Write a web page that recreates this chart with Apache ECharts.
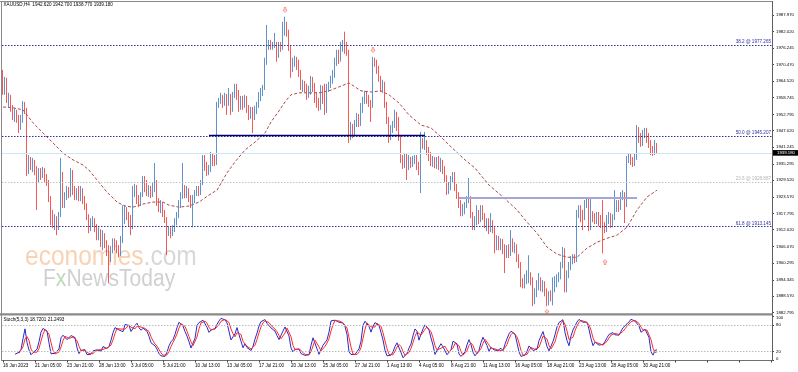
<!DOCTYPE html>
<html><head><meta charset="utf-8">
<script src="https://cdn.jsdelivr.net/npm/echarts@6/dist/echarts.min.js"></script>
<style>html,body{margin:0;padding:0;background:#fff}#c{width:798px;height:372px}</style>
</head><body><div id="c"></div>
<script>
// ---------- data ----------
const timeLabels = ["16 Jun 2023","21 Jun 05:00","23 Jun 21:00","28 Jun 13:00","3 Jul 05:00","5 Jul 21:00","10 Jul 13:00","13 Jul 05:00","17 Jul 21:00","20 Jul 13:00","25 Jul 05:00","27 Jul 21:00","1 Aug 13:00","4 Aug 05:00","8 Aug 21:00","11 Aug 13:00","16 Aug 05:00","18 Aug 21:00","23 Aug 13:00","28 Aug 05:00","30 Aug 21:00"];
const priceTicks = [1882.795,1888.570,1894.345,1900.295,1906.070,1912.020,1917.795,1923.570,1929.520,1935.295,1941.245,1947.020,1952.795,1958.745,1964.520,1970.470,1976.245,1982.020,1987.970];
const stochTicks = [0,20,80,100];
const stochLevels = [20,80];
const fibRatios = ["38.2","50.0","23.6","61.8"];
const fibLevels = [1977.265,1945.207,1928.887,1913.145];
const lastPrice = 1939.18;
const supportLine = {level:1945.28, from:103, to:211};
const rangeLine = {level:1923.34, from:228, to:317};
const upperFractals = [[141,1989.7],[185,1975.5]];
const lowerFractals = [[272,1882.95],[301,1900.6]];

// candles: [open, close, low, high]
const ohlcJune = [
[1966.7,1961.4,1959.7,1968.5],[1961.4,1965.0,1959.7,1966.0],[1965.0,1957.9,1956.8,1965.7],[1957.9,1959.0,1955.1,1960.4],
[1959.0,1955.1,1953.7,1959.7],[1955.1,1952.2,1950.8,1956.1],[1952.2,1953.7,1950.1,1955.1],[1953.7,1951.5,1949.8,1954.4],
[1951.5,1948.3,1946.2,1952.6],[1948.3,1950.8,1947.3,1952.6],[1950.8,1956.5,1949.8,1957.5],[1956.5,1954.4,1952.9,1957.2],
[1954.4,1932.4,1931.0,1955.1],[1932.4,1936.7,1931.7,1938.4],[1936.7,1934.2,1933.1,1937.7],[1934.2,1936.0,1932.4,1937.4],
[1936.0,1933.1,1931.3,1936.7],[1933.1,1929.6,1919.0,1934.5],[1929.6,1932.4,1928.5,1933.8],[1932.4,1931.0,1929.6,1933.8],
[1931.0,1933.1,1930.3,1934.2],[1933.1,1930.3,1928.9,1933.8],[1930.3,1928.5,1927.5,1931.7],[1928.5,1923.2,1921.8,1929.6],
[1923.2,1917.2,1913.6,1923.9],[1917.2,1914.7,1912.6,1919.0],[1914.7,1916.1,1911.9,1917.5],[1916.1,1912.6,1910.1,1916.8],
[1912.6,1917.2,1911.9,1918.3],[1917.2,1931.3,1916.5,1937.4],[1931.3,1920.7,1919.7,1932.4],[1920.7,1923.6,1919.7,1925.3],
[1923.6,1925.3,1922.5,1927.5],[1925.3,1924.3,1923.2,1927.1],[1924.3,1932.4,1923.6,1933.8],[1932.4,1926.0,1924.3,1933.1],
[1926.0,1923.9,1922.5,1927.5],[1923.9,1925.3,1922.5,1926.7],[1925.3,1923.2,1922.1,1927.5],[1923.2,1926.0,1922.1,1927.5],
[1926.0,1922.5,1921.1,1926.7],[1922.5,1920.0,1919.0,1923.9],[1920.0,1916.5,1915.4,1921.4],[1916.5,1912.2,1910.8,1917.5],
[1912.2,1914.7,1911.5,1916.1],[1914.7,1915.4,1913.3,1916.8],[1915.4,1912.6,1911.2,1916.1],[1912.6,1909.8,1908.3,1914.0],
[1909.8,1911.2,1908.3,1912.9],[1911.2,1907.6,1905.9,1912.2],[1907.6,1909.8,1904.8,1911.9],[1909.8,1906.6,1905.5,1910.8],
[1906.6,1904.1,1902.7,1908.3],[1904.1,1902.0,1893.1,1906.6],[1902.0,1904.8,1900.6,1906.2],[1904.8,1907.3,1903.7,1909.0],
[1907.3,1905.9,1904.8,1909.0],[1905.9,1904.8,1903.7,1908.3],[1904.8,1903.7,1902.3,1906.6],[1903.7,1908.3,1902.7,1909.8],
[1908.3,1915.4,1907.3,1920.7],[1915.4,1919.0,1914.0,1920.7],[1919.0,1916.8,1915.4,1920.0]
];
const ohlcJuly = [
[1916.8,1914.7,1913.3,1918.3],[1914.7,1913.3,1910.1,1917.2],[1913.3,1926.0,1912.2,1927.5],[1926.0,1926.7,1923.6,1928.2],
[1926.7,1922.5,1921.1,1927.8],[1922.5,1921.1,1920.0,1924.3],[1921.1,1924.3,1920.4,1925.3],[1924.3,1929.6,1923.6,1931.0],
[1929.6,1927.1,1925.3,1931.0],[1927.1,1925.0,1923.9,1929.6],[1925.0,1926.0,1923.6,1927.8],[1926.0,1924.3,1923.2,1927.5],
[1924.3,1926.7,1923.6,1928.5],[1926.7,1927.8,1925.3,1935.6],[1927.8,1921.4,1920.4,1929.6],[1921.4,1919.7,1918.3,1923.2],
[1919.7,1920.7,1917.9,1922.5],[1920.7,1917.5,1916.5,1921.8],[1917.5,1915.4,1914.4,1919.0],[1915.4,1911.2,1903.0,1916.5],
[1911.2,1911.9,1909.8,1913.3],[1911.9,1910.5,1909.0,1912.9],[1910.5,1912.2,1909.8,1913.6],[1912.2,1914.7,1911.2,1916.1],
[1914.7,1916.8,1913.6,1918.3],[1916.8,1920.7,1916.1,1922.5],[1920.7,1923.9,1919.7,1925.3],[1923.9,1926.7,1922.9,1935.6],
[1926.7,1924.3,1923.2,1927.8],[1924.3,1926.0,1923.2,1927.5],[1926.0,1923.2,1921.8,1926.7],[1923.2,1920.7,1919.7,1924.3],
[1920.7,1922.5,1912.9,1924.3],[1922.5,1925.0,1921.4,1926.0],[1925.0,1926.0,1923.9,1927.5],[1926.0,1925.0,1923.9,1927.5],
[1925.0,1928.5,1924.3,1929.6],[1928.5,1937.4,1927.8,1938.4],[1937.4,1933.8,1932.8,1938.4],[1933.8,1932.4,1931.0,1936.0],
[1932.4,1933.1,1931.3,1934.9],[1933.1,1938.1,1932.4,1939.5],[1938.1,1936.7,1934.5,1939.1],[1936.7,1935.6,1934.5,1938.4],
[1935.6,1955.8,1934.9,1957.2],[1955.8,1957.2,1955.1,1958.6],[1957.2,1959.0,1956.5,1960.4],[1959.0,1956.5,1955.1,1959.7],
[1956.5,1959.0,1955.8,1960.4],[1959.0,1956.5,1952.6,1960.0],[1956.5,1959.3,1955.8,1962.1],[1959.3,1954.4,1952.6,1960.0],
[1954.4,1959.3,1953.7,1960.7],[1959.3,1962.1,1958.6,1963.6],[1962.1,1959.7,1957.9,1963.6],[1959.7,1955.1,1953.7,1961.4],
[1955.1,1957.9,1954.4,1959.3],[1957.9,1955.8,1954.4,1959.3],[1955.8,1958.6,1955.1,1959.7],[1958.6,1954.4,1953.3,1959.3],
[1954.4,1951.9,1950.8,1956.1],[1951.9,1954.4,1951.2,1955.4],[1954.4,1951.5,1946.2,1955.4],[1951.5,1954.4,1950.8,1955.8],
[1954.4,1955.8,1952.9,1957.2],[1955.8,1958.3,1955.1,1960.7],[1958.3,1960.7,1957.5,1962.1],[1960.7,1962.1,1959.3,1963.2],
[1962.1,1971.4,1961.4,1972.8],[1971.4,1976.7,1970.3,1984.4],[1976.7,1978.4,1975.6,1979.1],[1978.4,1976.3,1975.6,1979.1],
[1976.3,1977.7,1975.6,1978.4],[1977.7,1978.1,1976.3,1981.6],[1978.1,1973.8,1971.4,1978.4],[1973.8,1977.4,1972.8,1978.4],
[1977.4,1976.3,1974.9,1978.4],[1976.3,1983.4,1975.6,1985.5],[1983.4,1984.8,1980.6,1987.3],[1984.8,1981.6,1980.2,1985.5],
[1981.6,1976.3,1975.2,1982.7],[1976.3,1969.2,1965.7,1977.0],[1969.2,1971.4,1967.8,1972.8],[1971.4,1972.4,1969.6,1973.5],
[1972.4,1969.9,1968.5,1973.1],[1969.9,1967.1,1966.0,1972.1],[1967.1,1962.1,1961.4,1968.5],[1962.1,1963.6,1960.7,1965.0],
[1963.6,1961.4,1960.7,1964.6],[1961.4,1959.3,1957.9,1963.6],[1959.3,1960.7,1958.6,1962.9],[1960.7,1965.0,1959.7,1966.4],
[1965.0,1962.1,1960.7,1966.0],[1962.1,1959.3,1956.8,1963.9],[1959.3,1956.1,1955.1,1960.7],[1956.1,1955.1,1954.0,1958.6],
[1955.1,1960.7,1954.4,1963.2],[1960.7,1957.9,1956.5,1962.9],[1957.9,1954.0,1952.6,1963.6],[1954.0,1962.1,1953.3,1963.6],
[1962.1,1963.2,1960.7,1964.3],[1963.2,1965.0,1962.1,1966.4],[1965.0,1966.7,1963.6,1968.5],[1966.7,1971.4,1965.7,1972.8],
[1971.4,1973.8,1969.9,1975.6],[1973.8,1972.1,1970.6,1975.6],[1972.1,1976.7,1971.4,1978.4],[1976.7,1977.7,1974.9,1979.1],
[1977.7,1975.6,1974.2,1982.0],[1975.6,1974.5,1973.5,1978.4],[1974.5,1945.5,1942.7,1975.6],[1945.5,1948.0,1943.7,1950.1],
[1948.0,1946.2,1944.4,1949.4],[1946.2,1949.4,1945.2,1950.8],[1949.4,1950.8,1948.3,1953.3],[1950.8,1949.4,1948.3,1952.9],
[1949.4,1954.4,1948.7,1956.8],[1954.4,1957.9,1953.3,1959.0],[1957.9,1960.0,1956.5,1961.1],[1960.0,1957.9,1956.5,1960.7],
[1957.9,1956.5,1955.4,1959.7],[1956.5,1955.8,1950.1,1957.9],[1955.8,1972.1,1955.1,1973.1],[1972.1,1971.0,1969.6,1972.8],
[1971.0,1968.5,1967.1,1972.1],[1968.5,1965.0,1964.3,1969.9]
];
const ohlcAugust = [
[1965.0,1962.1,1960.7,1966.4],[1962.1,1963.2,1960.4,1965.0],[1963.2,1956.1,1955.1,1964.3],[1956.1,1950.8,1949.4,1957.2],
[1950.8,1944.8,1942.7,1951.9],[1944.8,1947.3,1943.7,1949.0],[1947.3,1949.0,1946.2,1950.5],[1949.0,1950.1,1948.0,1954.4],
[1950.1,1948.0,1946.9,1953.7],[1948.0,1944.4,1943.4,1951.9],[1944.4,1936.7,1935.6,1945.5],[1936.7,1934.5,1933.5,1938.4],
[1934.5,1937.4,1933.8,1938.8],[1937.4,1934.9,1929.6,1939.1],[1934.9,1936.7,1933.1,1938.4],[1936.7,1934.9,1933.8,1937.7],
[1934.9,1936.7,1934.2,1938.1],[1936.7,1937.4,1935.2,1938.4],[1937.4,1934.2,1933.1,1938.4],[1934.2,1932.4,1931.3,1936.0],
[1932.4,1943.0,1925.0,1946.6],[1943.0,1941.6,1940.6,1944.4],[1941.6,1942.3,1940.2,1946.6],[1942.3,1939.5,1938.4,1943.7],
[1939.5,1937.4,1936.3,1941.3],[1937.4,1935.6,1934.5,1939.5],[1935.6,1936.7,1934.2,1938.1],[1936.7,1934.9,1933.8,1937.7],
[1934.9,1936.7,1933.5,1937.7],[1936.7,1934.2,1933.1,1938.1],[1934.2,1935.6,1932.4,1937.4],[1935.6,1933.1,1931.7,1936.7],
[1933.1,1930.3,1928.9,1934.5],[1930.3,1925.3,1924.3,1931.3],[1925.3,1927.5,1924.6,1928.9],[1927.5,1929.6,1926.0,1931.0],
[1929.6,1931.3,1928.5,1932.4],[1931.3,1926.7,1925.7,1932.4],[1926.7,1923.9,1922.9,1928.2],[1923.9,1920.7,1919.7,1925.3],
[1920.7,1918.3,1916.8,1922.5],[1918.3,1919.7,1916.8,1921.1],[1919.7,1920.7,1917.5,1921.8],[1920.7,1922.5,1919.7,1923.9],
[1922.5,1922.9,1921.4,1930.3],[1922.9,1917.2,1916.1,1923.9],[1917.2,1913.3,1911.9,1918.3],[1913.3,1914.7,1911.9,1916.8],
[1914.7,1916.8,1913.6,1920.7],[1916.8,1915.4,1914.0,1919.0],[1915.4,1919.3,1914.7,1920.7],[1919.3,1916.5,1915.4,1920.7],
[1916.5,1913.6,1912.6,1917.9],[1913.6,1914.7,1911.5,1916.1],[1914.7,1911.9,1910.5,1916.1],[1911.9,1914.7,1911.2,1917.9],
[1914.7,1911.9,1910.8,1915.4],[1911.9,1905.5,1903.7,1912.9],[1905.5,1908.3,1904.8,1910.1],[1908.3,1906.2,1904.8,1909.8],
[1906.2,1907.6,1904.8,1909.0],[1907.6,1904.8,1903.4,1908.7],[1904.8,1904.1,1896.7,1906.9],[1904.1,1905.5,1902.0,1906.6],
[1905.5,1903.7,1902.0,1906.9],[1903.7,1907.6,1902.7,1911.9],[1907.6,1905.5,1904.1,1909.0],[1905.5,1906.2,1903.7,1907.6],
[1906.2,1902.0,1900.6,1906.9],[1902.0,1899.5,1898.4,1903.4],[1899.5,1893.1,1891.7,1900.6],[1893.1,1892.4,1891.3,1894.9],
[1892.4,1894.9,1891.3,1896.3],[1894.9,1895.6,1892.8,1897.7],[1895.6,1896.3,1893.1,1903.0],[1896.3,1894.2,1892.4,1897.0],
[1894.2,1886.4,1885.0,1895.2],[1886.4,1889.9,1885.7,1891.3],[1889.9,1892.4,1888.2,1894.2],[1892.4,1894.2,1890.6,1896.7],
[1894.2,1891.3,1890.3,1895.2],[1891.3,1892.8,1889.9,1894.2],[1892.8,1889.9,1888.5,1893.8],[1889.9,1886.0,1885.0,1891.3],
[1886.0,1888.9,1885.3,1890.3],[1888.9,1887.8,1886.7,1890.6],[1887.8,1891.0,1885.3,1895.2],[1891.0,1893.5,1889.9,1895.6],
[1893.5,1894.9,1891.7,1896.3],[1894.9,1895.6,1893.5,1897.0],[1895.6,1899.5,1894.5,1900.6],[1899.5,1904.8,1898.4,1905.9],
[1904.8,1890.6,1889.9,1905.5],[1890.6,1895.9,1889.9,1897.7],[1895.9,1899.1,1894.9,1900.6],[1899.1,1901.3,1897.7,1902.7],
[1901.3,1902.0,1899.8,1903.4],[1902.0,1901.3,1900.2,1903.4],[1901.3,1917.5,1900.6,1919.0],[1917.5,1919.7,1916.1,1920.7],
[1919.7,1917.2,1914.7,1920.7],[1917.2,1916.1,1911.9,1919.0],[1916.1,1921.1,1915.4,1922.5],[1921.1,1921.8,1919.7,1923.2],
[1921.8,1912.6,1911.5,1922.9],[1912.6,1917.5,1911.9,1923.2],[1917.5,1916.1,1914.7,1918.6],[1916.1,1915.4,1914.0,1917.9],
[1915.4,1916.8,1914.0,1918.3],[1916.8,1914.7,1913.3,1918.3],[1914.7,1914.0,1912.6,1917.2],[1914.0,1912.6,1903.7,1922.5],
[1912.6,1911.9,1910.8,1914.7],[1911.9,1915.4,1911.2,1917.2],[1915.4,1916.8,1914.0,1918.3],[1916.8,1913.6,1912.6,1917.9],
[1913.6,1916.1,1912.9,1917.5],[1916.1,1919.7,1915.4,1926.0],[1919.7,1920.7,1918.3,1922.5],[1920.7,1919.7,1918.3,1922.5],
[1919.7,1923.9,1919.0,1925.3],[1923.9,1924.6,1922.5,1926.0],[1924.6,1920.7,1914.4,1925.3],[1920.7,1936.7,1920.0,1938.1],
[1936.7,1937.7,1935.6,1938.8],[1937.7,1936.0,1934.9,1938.8],[1936.0,1935.2,1934.2,1937.7],[1935.2,1937.4,1934.5,1938.8],
[1937.4,1944.8,1936.7,1949.0],[1944.8,1943.7,1942.7,1948.3],[1943.7,1942.3,1941.3,1946.2],[1942.3,1945.5,1941.6,1947.3],
[1945.5,1946.9,1944.4,1948.0],[1946.9,1943.7,1942.7,1948.0],[1943.7,1942.0,1940.9,1946.2],[1942.0,1939.5,1938.4,1943.7],
[1939.5,1939.1,1938.1,1941.6],[1939.1,1942.7,1938.4,1943.7],[1942.62,1939.18,1938.77,1942.70]
];
// moving average line: [bar, price]
const maPoints = [[0,1955.4],[5,1955.1],[10,1954.4],[15,1949.8],[20,1946.2],[25,1942.7],[30,1939.1],[35,1936.7],[40,1934.9],[43,1933.1],[47,1929.6],[52,1925.3],[57,1921.8],[61,1920.4],[65,1920.0],[70,1921.1],[75,1921.8],[80,1921.8],[83,1920.7],[88,1920.0],[93,1920.4],[98,1921.8],[103,1924.3],[107,1926.0],[112,1932.1],[116,1936.0],[121,1940.2],[126,1943.0],[131,1946.2],[134,1950.1],[138,1954.0],[141,1957.2],[144,1959.7],[148,1960.4],[153,1960.4],[158,1960.4],[163,1961.1],[168,1962.5],[173,1963.9],[176,1962.5],[179,1961.1],[184,1960.7],[189,1961.1],[193,1959.7],[198,1956.8],[203,1952.6],[209,1949.0],[214,1948.0],[219,1944.8],[224,1941.3],[231,1936.7],[236,1933.8],[243,1927.8],[250,1923.6],[257,1919.0],[262,1914.7],[267,1910.8],[272,1905.9],[277,1903.4],[282,1902.3],[287,1902.3],[292,1905.5],[297,1907.6],[302,1909.0],[307,1910.1],[312,1912.9],[317,1919.0],[322,1923.6],[327,1926.0]];

// ---------- build ----------
const candles = ohlcJune.concat(ohlcJuly, ohlcAugust);
const SLOTS = 385;
const slots = Array.from({length: SLOTS}, (_, i) => String(i));
const maData = new Array(candles.length).fill(null);
maPoints.forEach(p => { maData[p[0]] = p[1]; });

function stochastic(bars, kP, slow, dP) {
  const n = bars.length, num = [], den = [], K = new Array(n).fill(null), D = new Array(n).fill(null);
  for (let i = 0; i < n; i++) {
    if (i < kP - 1) { num.push(null); den.push(null); continue; }
    let hh = -Infinity, ll = Infinity;
    for (let j = i - kP + 1; j <= i; j++) { hh = Math.max(hh, bars[j][3]); ll = Math.min(ll, bars[j][2]); }
    num.push(bars[i][1] - ll); den.push(hh - ll);
  }
  for (let i = kP + slow - 2; i < n; i++) {
    let a = 0, b = 0;
    for (let j = i - slow + 1; j <= i; j++) { a += num[j]; b += den[j]; }
    K[i] = b === 0 ? 100 : 100 * a / b;
  }
  for (let i = kP + slow + dP - 3; i < n; i++) {
    let s = 0; for (let j = i - dP + 1; j <= i; j++) s += K[j]; D[i] = s / dP;
  }
  return {K, D};
}
const st = stochastic(candles, 5, 3, 3);

const FONT = '"Liberation Sans", Arial, sans-serif';
const FS = 4.6;
const WM_FONT = '"Liberation Sans", Arial, sans-serif';
const upArrow = 'path://M4,0 L8,4 L5.6,4 L5.6,9 L2.4,9 L2.4,4 L0,4 Z';
const downArrow = 'path://M2.4,0 L5.6,0 L5.6,5 L8,5 L4,9 L0,5 L2.4,5 Z';

const fibMarks = fibLevels.map((v, i) => {
  const grey = fibRatios[i] === '23.6';
  return {
    yAxis: v,
    lineStyle: {color: grey ? '#c4c4c4' : '#30309c', type: [1.5, 1.5], width: 1},
    label: {show: true, position: 'insideEndTop', distance: [1, 0.5], formatter: fibRatios[i] + ' @ ' + v.toFixed(3),
            color: grey ? '#b4b4b4' : '#3030a0', fontSize: FS, fontFamily: FONT}
  };
});

const chart = echarts.init(document.getElementById('c'), null, {renderer: 'canvas'});
chart.setOption({
  animation: false,
  backgroundColor: '#ffffff',
  textStyle: {fontFamily: FONT},
  grid: [
    {left: 2, top: 3, width: 770, height: 310},
    {left: 2, top: 316, width: 770, height: 44.5}
  ],
  xAxis: [
    {type: 'category', gridIndex: 0, data: slots, boundaryGap: true,
     axisLine: {show: false}, axisTick: {show: false}, axisLabel: {show: false}, splitLine: {show: false}},
    {type: 'category', gridIndex: 1, data: slots, boundaryGap: true,
     axisLine: {show: true, lineStyle: {color: '#707070', width: 1}},
     axisTick: {show: true, interval: 15, alignWithLabel: true, length: 2, lineStyle: {color: '#404040'}},
     axisLabel: {interval: 15, fontSize: FS, color: '#000', align: 'left', margin: 2.5, fontFamily: FONT,
                 formatter: (v) => { const i = +v; return (i % 16 === 0 && timeLabels[i / 16]) ? timeLabels[i / 16] : ''; }},
     splitLine: {show: false}}
  ],
  yAxis: [
    {type: 'value', gridIndex: 0, position: 'right', min: 1882.60, max: 1992.14, scale: true,
     axisLine: {show: false}, splitLine: {show: false},
     axisTick: {show: true, length: 2, customValues: priceTicks, lineStyle: {color: '#404040'}},
     axisLabel: {customValues: priceTicks, fontSize: 4.3, color: '#000', margin: 4, fontFamily: FONT,
                 formatter: (v) => Number(v).toFixed(3)}},
    {type: 'value', gridIndex: 1, position: 'right', min: 0, max: 100,
     axisLine: {show: false}, splitLine: {show: false},
     axisTick: {show: true, length: 2, customValues: stochTicks, lineStyle: {color: '#404040'}},
     axisLabel: {customValues: stochTicks, fontSize: 4.3, color: '#000', margin: 4, fontFamily: FONT,
                 verticalAlignMinLabel: 'bottom', verticalAlignMaxLabel: 'top'}}
  ],
  graphic: [
    {type: 'text', z: 0, x: 25, y: 271, scaleX: 0.876, scaleY: 1,
     style: {x: 0, y: 0, text: '{a|economies}{b|.com}', verticalAlign: 'bottom',
      rich: {a: {fill: '#f9d2b2', font: '28px ' + WM_FONT},
             b: {fill: '#d8d8d8', font: '28px ' + WM_FONT}}}},
    {type: 'text', z: 0, x: 43, y: 291, scaleX: 0.915, scaleY: 1,
     style: {x: 0, y: 0, text: '{a|F}{c|x}{a|NewsToday}', verticalAlign: 'bottom',
      rich: {a: {fill: '#d0d0d0', font: '23px ' + WM_FONT},
             c: {fill: '#bcdab7', font: '23px ' + WM_FONT}}}},
    {type: 'text', z: 10, style: {x: 3.5, y: 5, text: 'XAUUSD,H4  1942.620 1942.700 1938.770 1939.180', fill: '#000',
      font: FS + 'px ' + FONT, verticalAlign: 'middle'}},
    {type: 'text', z: 10, style: {x: 3.5, y: 320, text: 'Stoch(5,3,3) 18.7201 21.2493', fill: '#000',
      font: FS + 'px ' + FONT, verticalAlign: 'middle'}},
    {type: 'line', z: 10, shape: {x1: 0, y1: 1.5, x2: 772, y2: 1.5}, style: {stroke: '#8a8a8a', lineWidth: 1}},
    {type: 'line', z: 10, shape: {x1: 1.5, y1: 1, x2: 1.5, y2: 361}, style: {stroke: '#8a8a8a', lineWidth: 1}},
    {type: 'rect', z: 10, shape: {x: 0, y: 313.3, width: 772.5, height: 2.2}, style: {fill: '#8a8a8a'}},
    {type: 'line', z: 10, shape: {x1: 772.5, y1: 1, x2: 772.5, y2: 361}, style: {stroke: '#606060', lineWidth: 1}}
  ],
  series: [
    {type: 'line', name: 'MA', xAxisIndex: 0, yAxisIndex: 0, data: maData, connectNulls: true, showSymbol: false,
     symbol: 'none', z: 1, silent: true,
     lineStyle: {color: '#a84a4a', width: 1, type: [3, 2]}},
    {type: 'candlestick', name: 'XAUUSD', xAxisIndex: 0, yAxisIndex: 0, data: candles, barWidth: 1, z: 2,
     silent: true,
     itemStyle: {color: '#3a74b8', color0: '#f43030', borderColor: '#4f86c6', borderColor0: '#f54545', borderWidth: 0.9},
     markLine: {silent: true, symbol: ['none', 'none'], animation: false,
       data: fibMarks.concat([
         {yAxis: lastPrice, lineStyle: {color: '#c6eaf0', type: 'solid', width: 1},
          label: {show: true, position: 'end', distance: 1, formatter: lastPrice.toFixed(3), color: '#fff',
                  backgroundColor: '#000', padding: [0.8, 4], fontSize: 4.3, fontFamily: FONT}},
         [{coord: [supportLine.from, supportLine.level], lineStyle: {color: '#000070', width: 1.4, type: 'solid'}, label: {show: false}},
          {coord: [supportLine.to, supportLine.level]}],
         [{coord: [rangeLine.from, rangeLine.level], lineStyle: {color: '#a6a6da', width: 2, type: 'solid'}, label: {show: false}},
          {coord: [rangeLine.to, rangeLine.level]}]
       ])}},
    {type: 'scatter', name: 'upper', xAxisIndex: 0, yAxisIndex: 0, data: upperFractals, symbol: downArrow,
     symbolSize: [4, 5], z: 5, silent: true,
     itemStyle: {color: 'rgba(255,255,255,0)', borderColor: '#ff5a5a', borderWidth: 0.8}},
    {type: 'scatter', name: 'lower', xAxisIndex: 0, yAxisIndex: 0, data: lowerFractals, symbol: upArrow,
     symbolSize: [4, 5], z: 5, silent: true,
     itemStyle: {color: 'rgba(255,255,255,0)', borderColor: '#ff5a5a', borderWidth: 0.8}},
    {type: 'line', name: 'Stoch main', xAxisIndex: 1, yAxisIndex: 1, data: st.K, symbol: 'none', showSymbol: false,
     silent: true, z: 3, lineStyle: {color: '#2a2ac8', width: 1},
     markLine: {silent: true, symbol: ['none', 'none'], label: {show: false},
       lineStyle: {color: '#bcbcbc', type: [1.5, 1.5], width: 1},
       data: stochLevels.map(v => ({yAxis: v}))}},
    {type: 'line', name: 'Stoch signal', xAxisIndex: 1, yAxisIndex: 1, data: st.D, symbol: 'none', showSymbol: false,
     silent: true, z: 4, lineStyle: {color: '#ff2a2a', width: 1}}
  ]
});
</script>
</body></html>
